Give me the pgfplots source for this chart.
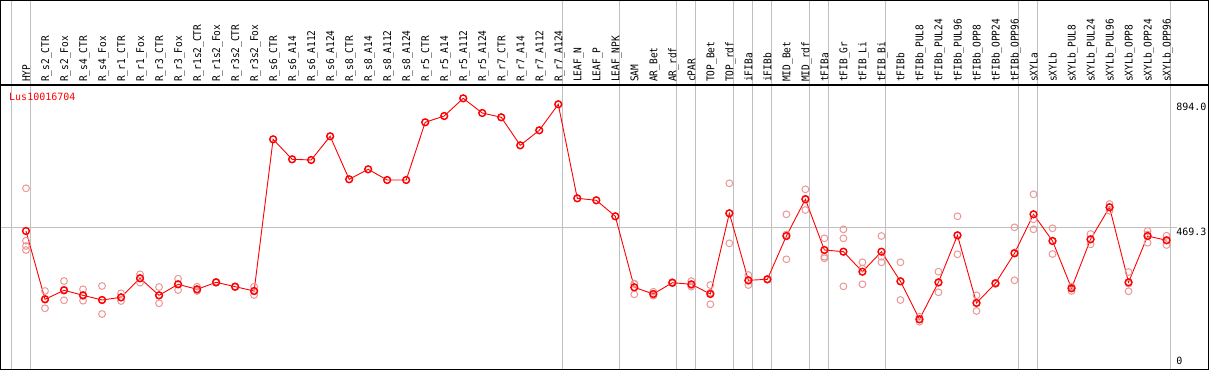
\documentclass[border=0pt]{standalone}
\usepackage{fontspec}
\newfontfamily\monof{DejaVu Sans Mono}
\usepackage{pgfplots}
\pgfplotsset{compat=1.18}
\usepackage{pgfplotstable}

\definecolor{gridgray}{RGB}{192,192,192}
\definecolor{reppink}{RGB}{236,150,150}

\pgfplotstableread{
i v
0 458.7
1 226.6
2 257.2
3 240.2
4 224.3
5 233.4
6 298.0
7 240.2
8 277.6
9 260.6
10 284.4
11 269.5
12 254.9
13 770.3
14 702.4
15 700.0
16 780.5
17 634.4
18 668.4
19 632.0
20 632.0
21 828.1
22 849.5
23 909.6
24 859.7
25 845.1
26 749.9
27 800.9
28 889.3
29 569.8
30 563.1
31 508.7
32 267.4
33 244.7
34 283.1
35 277.6
36 244.7
37 518.9
38 291.2
39 294.6
40 441.7
41 566.5
42 394.2
43 388.4
44 320.4
45 388.4
46 287.8
47 158.7
48 284.4
49 444.1
50 214.1
51 281.0
52 382.9
53 515.5
54 424.8
55 264.0
56 430.5
57 539.3
58 284.4
59 441.7
60 427.2
}\meantab

\pgfplotstableread{
i v
0 603.8
0 425.8
0 407.8
0 394.2
1 254.9
1 196.1
1 228.8
2 288.8
2 223.2
2 259.6
3 260.6
3 221.9
3 238.0
4 271.8
4 176.7
4 224.4
5 247.0
5 220.9
5 232.0
6 311.6
6 283.1
6 299.0
7 268.4
7 213.1
7 239.0
8 296.6
8 258.2
8 278.0
9 269.5
9 254.9
9 257.0
10 286.0
10 283.0
10 284.0
11 270.0
11 268.0
11 270.0
12 269.5
12 241.3
12 254.0
32 278.6
32 243.6
32 280.0
33 252.5
33 238.9
33 242.7
34 285.0
34 283.0
34 281.0
35 288.8
35 269.5
35 274.5
36 275.2
36 209.7
36 249.0
37 620.8
37 416.9
37 519.0
38 309.2
38 275.2
38 289.0
39 296.0
39 294.0
39 294.0
40 515.5
40 362.6
40 447.0
41 600.4
41 530.1
41 569.0
42 433.9
42 371.4
42 365.9
43 464.5
43 433.9
43 270.8
44 352.4
44 277.6
44 331.0
45 441.7
45 352.4
45 371.4
46 352.4
46 224.3
46 287.0
47 167.5
47 150.5
47 158.0
48 320.4
48 250.4
48 282.0
49 508.7
49 379.6
49 444.0
50 240.2
50 186.9
50 215.0
51 283.0
51 279.0
51 281.0
52 471.3
52 291.2
52 386.0
53 583.4
53 464.5
53 498.6
54 467.9
54 380.6
54 426.0
55 269.5
55 254.9
55 267.0
56 448.5
56 413.5
56 430.0
57 550.5
57 527.7
57 540.0
58 319.4
58 253.8
58 280.0
59 458.7
59 419.0
59 447.0
60 442.8
60 411.2
60 427.0
}\reptab

\begin{document}
\begin{tikzpicture}[x=1pt,y=1pt]
\useasboundingbox (0,0) rectangle (1209,370);
\begin{axis}[
  at={(0,0)}, anchor=south west,
  scale only axis, width=1209pt, height=370pt,
  xmin=-1.3677, xmax=62.2304, ymin=-13.59, ymax=1243.67,
  hide axis, clip=false,
]
\pgfplotsinvokeforeach{-1,0,28,31,34,35,37,38,39,41,42,45,52,53,60}{
  \draw[gridgray, line width=1pt] (axis cs:#1+0.23,-13.59) -- (axis cs:#1+0.23,1243.67);
}
\draw[gridgray, line width=1pt] (axis cs:-1.3677,469.3) -- (axis cs:60.55,469.3);
\addplot[only marks, mark=o, mark size=3.4pt, color=reppink, mark options={line width=1pt}] table[x=i,y=v]{\meantab};
\addplot[only marks, mark=o, mark size=3.4pt, color=reppink, mark options={line width=1pt}] table[x=i,y=v]{\reptab};
\addplot[red, line width=0.9pt, mark=o, mark size=3.4pt, mark options={line width=1.4pt}] table[x=i,y=v]{\meantab};
\node[anchor=north west, inner sep=0pt, font=\fontsize{10}{10}\monof] at (axis cs:60.5,894) {894.0};
\node[anchor=north west, inner sep=0pt, font=\fontsize{10}{10}\monof] at (axis cs:60.5,469.3) {469.3};
\node[anchor=south west, inner sep=0pt, font=\fontsize{10}{10}\monof] at (axis cs:60.5,3) {0};
\end{axis}
\draw[black, line width=1.3pt] (0.6,0.6) rectangle (1208.4,369.4);
\draw[black, line width=1.3pt] (0,285) -- (1209,285);
\node[anchor=north west, inner sep=0pt, text=red, font=\fontsize{10}{10}\monof] at (9,277) {Lus10016704};
\foreach \lab [count=\k from 0] in {HYP,R\_s2\_CTR,R\_s2\_Fox,R\_s4\_CTR,R\_s4\_Fox,R\_r1\_CTR,R\_r1\_Fox,R\_r3\_CTR,R\_r3\_Fox,R\_r1s2\_CTR,R\_r1s2\_Fox,R\_r3s2\_CTR,R\_r3s2\_Fox,R\_s6\_CTR,R\_s6\_A14,R\_s6\_A112,R\_s6\_A124,R\_s8\_CTR,R\_s8\_A14,R\_s8\_A112,R\_s8\_A124,R\_r5\_CTR,R\_r5\_A14,R\_r5\_A112,R\_r5\_A124,R\_r7\_CTR,R\_r7\_A14,R\_r7\_A112,R\_r7\_A124,LEAF\_N,LEAF\_P,LEAF\_NPK,SAM,AR\_Bet,AR\_rdf,cPAR,TOP\_Bet,TOP\_rdf,iFIBa,iFIBb,MID\_Bet,MID\_rdf,tFIBa,tFIB\_Gr,tFIB\_Li,tFIB\_Bi,tFIBb,tFIBb\_PUL8,tFIBb\_PUL24,tFIBb\_PUL96,tFIBb\_OPP8,tFIBb\_OPP24,tFIBb\_OPP96,sXYLa,sXYLb,sXYLb\_PUL8,sXYLb\_PUL24,sXYLb\_PUL96,sXYLb\_OPP8,sXYLb\_OPP24,sXYLb\_OPP96}
  \node[rotate=90, anchor=base west, inner sep=0pt, font=\fontsize{9.5}{10}\monof] at ({30+19.01*\k},288) {\scalebox{1}[1.12]{\lab}};
\end{tikzpicture}
\end{document}
